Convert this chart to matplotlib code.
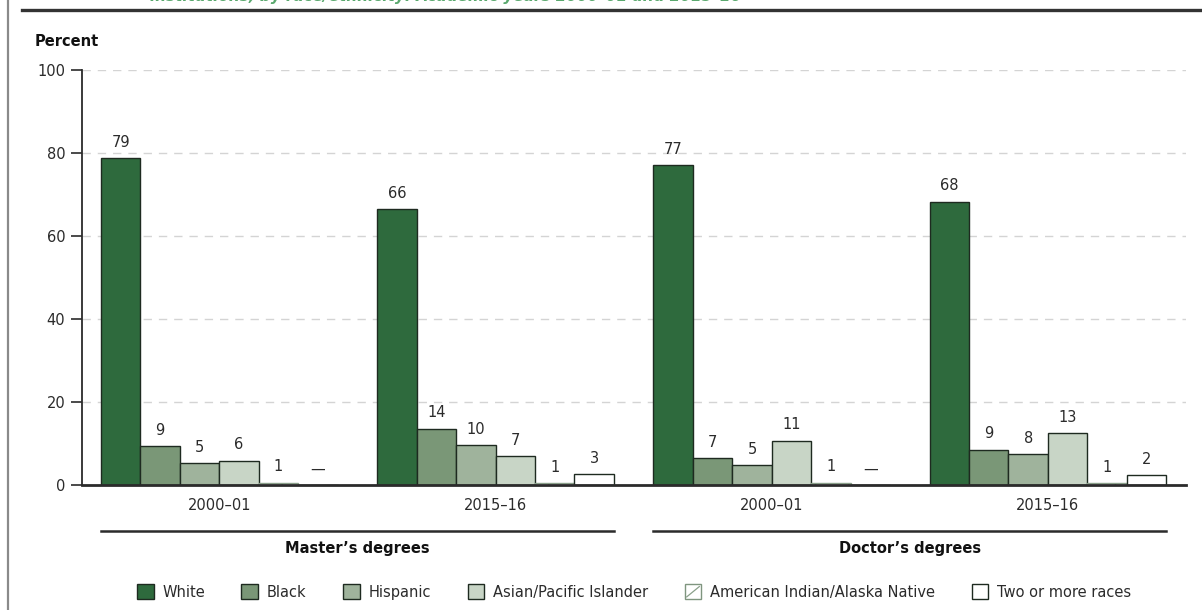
import numpy as np
import matplotlib
matplotlib.use("Agg")
import matplotlib.pyplot as plt
from matplotlib.patches import Patch, Rectangle
from matplotlib.lines import Line2D
from matplotlib.legend_handler import HandlerBase

plt.rcParams["font.family"] = ["DejaVu Sans"]
plt.rcParams["hatch.linewidth"] = 0.8

# --- data (percent of degrees conferred) ---
periods = ["2000–01", "2015–16", "2000–01", "2015–16"]
degrees = ["Master’s degrees", "Doctor’s degrees"]
races = ["White", "Black", "Hispanic", "Asian/Pacific Islander",
         "American Indian/Alaska Native", "Two or more races"]
white = [78.7, 66.4, 77.0, 68.3]
black = [9.4, 13.6, 6.5, 8.5]
hispanic = [5.3, 9.6, 4.8, 7.4]
asian = [5.9, 6.9, 10.7, 12.5]
aian = [0.6, 0.5, 0.6, 0.5]
two_more = [np.nan, 2.6, np.nan, 2.4]
white_lbl = ["79", "66", "77", "68"]
black_lbl = ["9", "14", "7", "9"]
hispanic_lbl = ["5", "10", "5", "8"]
asian_lbl = ["6", "7", "11", "13"]
aian_lbl = ["1", "1", "1", "1"]
two_lbl = ["—", "3", "—", "2"]

series = [white, black, hispanic, asian, aian, two_more]
labels = [white_lbl, black_lbl, hispanic_lbl, asian_lbl, aian_lbl, two_lbl]
FILL = ["#2e6a3d", "#7a9777", "#9fb39c", "#c8d5c6", "white", "white"]
EDGE = ["#1e2a20", "#1e2a20", "#1e2a20", "#1e2a20", "#8aa08a", "#1e2a20"]
HATCH = [None, None, None, None, "/", None]
INK = "#2b2b2b"


class DiagBox(HandlerBase):
    """legend box with a single diagonal stroke (hatched series)"""
    def create_artists(self, legend, orig, xd, yd, w, h, fs, trans):
        r = Rectangle((-xd, -yd), w, h, facecolor="white", edgecolor="#7f957f",
                      lw=1.0, transform=trans)
        ln = Line2D([-xd + 1.5, -xd + w - 1.5], [-yd + 1.5, -yd + h - 1.5],
                    color="#8aa08a", lw=0.9, transform=trans)
        return [r, ln]


fig = plt.figure(figsize=(12.02, 6.10), dpi=100)
ax = fig.add_axes([82/1202, 125/610, 1104/1202, 415/610])

centers = np.arange(len(periods)) * 7.0
for i, (vals, lbls) in enumerate(zip(series, labels)):
    xs = centers + (i - 2.5)
    v = np.array(vals, dtype=float)
    ax.bar(xs, np.nan_to_num(v), width=1.0, color=FILL[i], edgecolor=EDGE[i],
           linewidth=1.0, hatch=HATCH[i], zorder=3)
    for x, val, s in zip(xs, v, lbls):
        y = 0 if np.isnan(val) else val
        ax.annotate(s, (x, y), xytext=(0, 6), textcoords="offset points",
                    ha="center", va="bottom", fontsize=10.5, color=INK)

ax.set_xlim(-3.48, 24.5)
ax.set_ylim(0, 100)
ax.set_yticks(range(0, 101, 20))
ax.set_xticks(centers)
ax.set_xticklabels(periods, fontsize=10.5, color=INK)
ax.tick_params(axis="x", length=0, pad=9)
ax.tick_params(axis="y", direction="out", length=8, width=1.2, pad=4,
               labelsize=10.5, labelcolor=INK, color=INK)
ax.yaxis.grid(True, ls=(0, (6, 5)), color="#d4d4d4", lw=1.0, zorder=0)
ax.set_axisbelow(True)
for sp in ("top", "right"):
    ax.spines[sp].set_visible(False)
ax.spines["left"].set_color(INK)
ax.spines["left"].set_linewidth(1.3)
ax.spines["bottom"].set_color(INK)
ax.spines["bottom"].set_linewidth(2.0)
ax.spines["bottom"].set_zorder(4)

# degree brackets under the periods
tr = ax.get_xaxis_transform()
for k, name in enumerate(degrees):
    x0 = centers[2*k] - 3
    x1 = centers[2*k + 1] + 3
    ax.add_line(Line2D([x0, x1], [-0.111, -0.111], transform=tr, color=INK,
                       lw=1.8, clip_on=False))
    ax.text((x0 + x1) / 2, -0.153, name, transform=tr, ha="center", va="center",
            fontsize=10.5, fontweight="bold", color="#111111")

handles = [Patch(facecolor=FILL[i], edgecolor=EDGE[i], linewidth=1.0) for i in range(6)]
ax.legend(handles, races, loc="center", bbox_to_anchor=(0.5, -0.258), ncol=6,
          frameon=False, fontsize=10.5, handlelength=1.15, handleheight=1.15,
          handletextpad=0.6, columnspacing=2.5, labelcolor=INK,
          handler_map={handles[4]: DiagBox()})

fig.text(35/1202, 1 - 42/610, "Percent", ha="left", va="center",
         fontsize=10.5, fontweight="bold", color="#111111")

# frame pieces of the surrounding page (title above is cut off, as in the source)
fig.add_artist(Line2D([8/1202, 8/1202], [0, 1], transform=fig.transFigure,
                      color="#8a8a8a", lw=1.6))
fig.add_artist(Line2D([22/1202, 1], [1 - 10/610, 1 - 10/610],
                      transform=fig.transFigure, color="#333333", lw=2.4))
fig.text(150/1202, 1 - 1/610,
         "institutions, by race/ethnicity: Academic years 2000–01 and 2015–16",
         ha="left", va="baseline", fontsize=11, fontweight="bold",
         style="italic", color="#5aa86e")

fig.savefig("out.png", dpi=100)
